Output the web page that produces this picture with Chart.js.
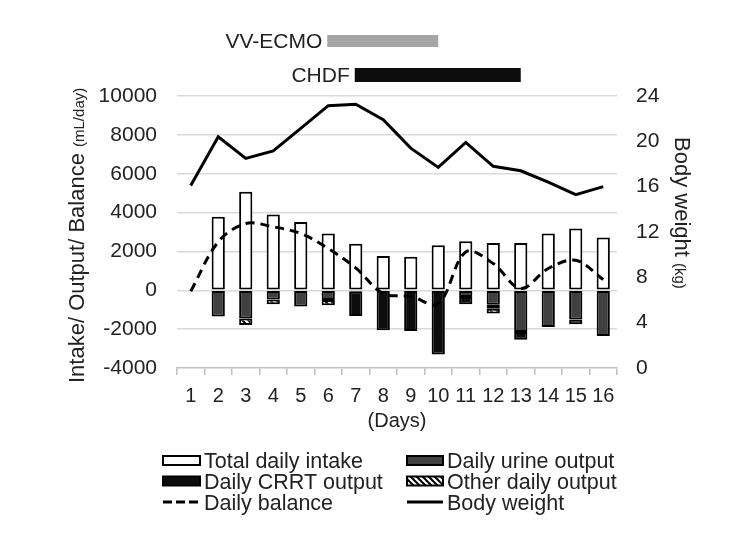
<!DOCTYPE html>
<html>
<head>
<meta charset="utf-8">
<script src="https://cdn.jsdelivr.net/npm/chart.js@4.4.0/dist/chart.umd.min.js"></script>
<style>
html,body{margin:0;padding:0;background:#fff;}
#wrap{position:relative;width:750px;height:544px;}
</style>
</head>
<body>
<div id="wrap"><canvas id="c" width="750" height="544"></canvas></div>
<script>
// ---- data ----
const days = ['1','2','3','4','5','6','7','8','9','10','11','12','13','14','15','16'];
const totalIntake  = [null,3780,5070,3900,3520,2920,2400,1770,1720,2320,2525,2440,2440,2920,3180,2715];
const urineOutput  = [null,-1350,-1450,-480,-840,-500,-70,null,null,null,-350,-750,-2150,-1890,-1500,-2350];
const crrtOutput   = [null,null,null,null,null,null,-1250,-2060,-2090,-3300,-370,-200,-400,null,-250,null];
const otherOutput  = [null,null,-340,-240,null,-275,null,null,null,null,null,-250,null,null,null,null];
const dailyBalance = [-50,2490,3435,3265,2920,2150,1150,-170,-310,-690,1975,1375,90,1120,1545,550];
const bodyWeight   = [16.1,20.4,18.5,19.15,21.15,23.15,23.27,21.9,19.4,17.7,19.9,17.8,17.4,16.4,15.3,16.0];
const leftTicks = {min:-4000, max:10000, step:2000};
const rightTicks = {min:0, max:24, step:4};
const therapyLabels = ['VV-ECMO','CHDF'];
const therapyStartDay = [6,7];
const therapyEndDay = [10,13];

const FONT = "'Liberation Sans', Arial, sans-serif";
const canvas = document.getElementById('c');
const ctx = canvas.getContext('2d');

const hatch = (() => {
  const c = document.createElement('canvas'); c.width = 6; c.height = 6;
  const g = c.getContext('2d');
  g.fillStyle = '#fff'; g.fillRect(0,0,6,6);
  g.strokeStyle = '#000'; g.lineWidth = 2;
  g.beginPath();
  g.moveTo(0,0); g.lineTo(6,6);
  g.moveTo(-3,3); g.lineTo(3,9);
  g.moveTo(3,-3); g.lineTo(9,3);
  g.stroke();
  return ctx.createPattern(c,'repeat');
})();

const barCommon = {stack:'io', borderColor:'#000', borderWidth:2, borderSkipped:false,
  barPercentage:0.48, categoryPercentage:1, order:2, yAxisID:'y'};

const datasets = [
  Object.assign({label:'Total daily intake', data: totalIntake, backgroundColor:'#fff'}, barCommon),
  Object.assign({label:'Daily urine output', data: urineOutput, backgroundColor:'#404040'}, barCommon),
  Object.assign({label:'Daily CRRT output', data: crrtOutput, backgroundColor:'#0d0d0d'}, barCommon),
  Object.assign({label:'Other daily output', data: otherOutput, backgroundColor: hatch}, barCommon),
  {type:'line', label:'Daily balance', data: dailyBalance, yAxisID:'y', stack:'bal',
   borderColor:'#000', borderWidth:3, borderDash:[9,6], pointRadius:0, fill:false, tension:0.35, order:0},
  {type:'line', label:'Body weight', data: bodyWeight, yAxisID:'y1',
   borderColor:'#000', borderWidth:3, pointRadius:0, fill:false, tension:0, order:0}
];

const annotPlugin = {
  id:'annot',
  afterDraw(chart) {
    const c = chart.ctx;
    const xs = chart.scales.x;
    c.save();
    // therapy bars
    const rows = [{y:35,h:12,base:48,color:'#a6a6a6'},{y:68,h:14,base:82,color:'#0d0d0d'}];
    therapyLabels.forEach((lab,i) => {
      const x0 = xs.getPixelForValue(therapyStartDay[i]-1) - 1;
      const x1 = xs.getPixelForValue(therapyEndDay[i]-1);
      const r = rows[i];
      c.fillStyle = r.color;
      c.fillRect(x0, r.y, x1-x0, r.h);
      c.fillStyle = '#222';
      c.font = '21px ' + FONT;
      c.textAlign = 'right'; c.textBaseline = 'alphabetic';
      c.fillText(lab, x0 - 5, r.base);
    });
    // left title
    c.save();
    c.translate(84, 383); c.rotate(-Math.PI/2);
    c.textAlign = 'left'; c.textBaseline = 'alphabetic'; c.fillStyle = '#222';
    c.font = '22px ' + FONT;
    const t1 = 'Intake/ Output/ Balance ';
    c.fillText(t1, 0, 0);
    const w1 = c.measureText(t1).width;
    c.font = '15px ' + FONT;
    c.fillText('(mL/day)', w1, 0);
    c.restore();
    // right title
    c.save();
    c.translate(675, 137); c.rotate(Math.PI/2);
    c.textAlign = 'left'; c.textBaseline = 'alphabetic'; c.fillStyle = '#222';
    c.font = '22px ' + FONT;
    const t2 = 'Body weight ';
    c.fillText(t2, 0, 0);
    const w2 = c.measureText(t2).width;
    c.font = '15px ' + FONT;
    c.fillText('(kg)', w2, 0);
    c.restore();
    // x title
    c.font = '20px ' + FONT; c.fillStyle = '#222';
    c.textAlign = 'center'; c.textBaseline = 'middle';
    c.fillText('(Days)', (chart.chartArea.left + chart.chartArea.right)/2, 421);
    // legend
    const ds = chart.data.datasets;
    const cols = [163, 407];
    const rowsY = [460.5, 481, 502];
    c.font = '21.5px ' + FONT; c.textAlign = 'left'; c.textBaseline = 'alphabetic';
    ds.forEach((d, k) => {
      const col = k % 2, row = Math.floor(k/2);
      const sx = cols[col], cy = rowsY[row], sw = col === 0 ? 37 : 36;
      if (d.type === 'line') {
        c.strokeStyle = '#000'; c.lineWidth = 3;
        c.setLineDash(d.borderDash ? [9,4] : []);
        c.beginPath(); c.moveTo(sx, cy); c.lineTo(sx+sw, cy); c.stroke();
        c.setLineDash([]);
      } else {
        c.fillStyle = d.backgroundColor;
        c.fillRect(sx, cy-4.5, sw, 9);
        c.strokeStyle = '#000'; c.lineWidth = 2;
        c.strokeRect(sx, cy-4.5, sw, 9);
      }
      c.fillStyle = '#222';
      c.fillText(d.label, sx + sw + 4, cy + 7.5);
    });
    c.restore();
  }
};

new Chart(ctx, {
  type:'bar',
  data:{labels: days, datasets},
  options:{
    responsive:false, animation:false,
    layout:{padding:{top:96,bottom:106,left:0,right:0}},
    plugins:{legend:{display:false}, tooltip:{enabled:false}, title:{display:false}},
    scales:{
      x:{stacked:true, offset:true,
        grid:{offset:true, drawOnChartArea:false, drawTicks:true, tickLength:7, color:'#bfbfbf', lineWidth:1.5},
        border:{display:true, color:'#bfbfbf', width:1.5},
        ticks:{color:'#222', font:{family:FONT, size:20}, padding:9, maxRotation:0, autoSkip:false},
        afterFit: s => { s.height = 70; }
      },
      y:{stacked:true, position:'left', min:leftTicks.min, max:leftTicks.max,
        ticks:{stepSize:leftTicks.step, color:'#222', font:{family:FONT, size:21}, padding:20,
          callback: v => String(v)},
        grid:{drawTicks:false, lineWidth:1.5, color: c => (c.tick && c.tick.value === leftTicks.min) ? 'rgba(0,0,0,0)' : '#d9d9d9'},
        border:{display:false},
        afterFit: s => { s.width = 177; }
      },
      y1:{position:'right', min:rightTicks.min, max:rightTicks.max,
        ticks:{stepSize:rightTicks.step, color:'#222', font:{family:FONT, size:21}, padding:19,
          callback: v => String(v)},
        grid:{drawOnChartArea:false, drawTicks:false},
        border:{display:false},
        afterFit: s => { s.width = 133; }
      }
    }
  },
  plugins:[annotPlugin]
});
</script>
</body>
</html>
